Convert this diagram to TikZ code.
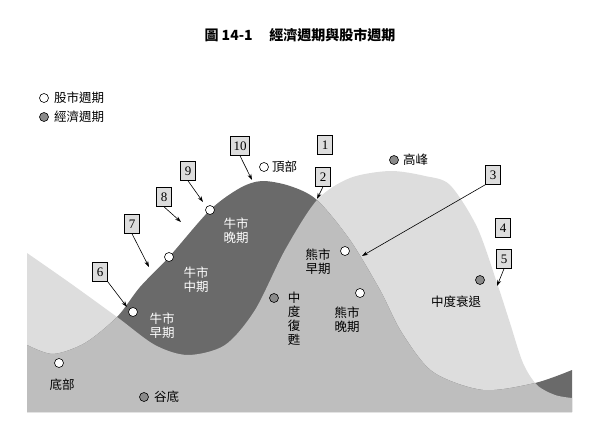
\documentclass[tikz,border=0pt]{standalone}
\usepackage{fontspec}
\setmainfont{Liberation Serif}
\newfontfamily\cjk{Noto Sans CJK TC}
\usetikzlibrary{arrows.meta}
\definecolor{darkg}{HTML}{6A6A6A}
\definecolor{lightg}{HTML}{DDDDDD}
\definecolor{medg}{HTML}{BEBEBE}
\definecolor{dotg}{HTML}{8A8A8A}
\tikzset{
 lbl/.style={font=\cjk\fontsize{12.5}{14}\selectfont, text=black, inner sep=0pt, align=center},
 lblw/.style={lbl, text=white},
 sdot/.style={circle, draw=black, fill=white, line width=0.6pt, minimum size=9pt, inner sep=0pt},
 edot/.style={circle, draw=black, fill=dotg, line width=0.6pt, minimum size=9pt, inner sep=0pt},
 numbox/.style={draw=black, fill=lightg, line width=0.6pt, minimum width=15pt, minimum height=19pt, inner sep=0pt, font=\fontsize{13}{14}\selectfont},
 arr/.style={-{Stealth[length=6pt,width=4pt]}, line width=0.6pt}
}
\begin{document}
\begin{tikzpicture}[x=1pt,y=-1pt]
\useasboundingbox (0,0) rectangle (600,428);
\def\Ecurve{(27,253)(70,283)(117,317)(155,345)(188,355)(225,345)(255,310)(285,250)(317,200)(350,178)(390,171)(425,176)(450,185)(477,227)(497,283)(510,323)(523,363)(537,385)(555,395)(572,398)}
\def\Scurve{(27,345)(53,354)(85,343)(117,317)(140,287)(169,257)(210,210)(240,188)(262,181)(290,186)(317,200)(350,240)(380,290)(402,333)(433,372)(483,390)(535,383)(572,370)}
\fill[lightg] (27,412) -- plot[smooth] coordinates {\Ecurve} -- (572,412) -- cycle;
\fill[darkg] (27,412) -- plot[smooth] coordinates {\Scurve} -- (572,412) -- cycle;
\begin{scope}
\clip (27,412) -- plot[smooth] coordinates {\Ecurve} -- (572,412) -- cycle;
\fill[medg] (27,412) -- plot[smooth] coordinates {\Scurve} -- (572,412) -- cycle;
\end{scope}
\node[font=\cjk\bfseries\fontsize{14}{16}\selectfont] (title) at (300,35) {圖 14-1\hspace{1.2em}經濟週期與股市週期};
\node[sdot] (lg1) at (44,98) {};
\node[lbl, anchor=west] (lg1t) at (54,98) {股市週期};
\node[edot] (lg2) at (44,117) {};
\node[lbl, anchor=west] (lg2t) at (54,117) {經濟週期};
% markers
\node[sdot] (d1) at (59,363) {};
\node[lbl] (d1t) at (62,385) {底部};
\node[edot] (d2) at (144,397) {};
\node[lbl, anchor=west] (d2t) at (154,397) {谷底};
\node[sdot] (d3) at (133,312) {};
\node[lblw] (d3t) at (162,326) {牛市\\早期};
\node[sdot] (d4) at (169,257) {};
\node[lblw] (d4t) at (196,280) {牛市\\中期};
\node[sdot] (d5) at (210,210) {};
\node[lblw] (d5t) at (236,231) {牛市\\晚期};
\node[sdot] (d6) at (264,167) {};
\node[lbl, anchor=west] (d6t) at (272,167) {頂部};
\node[edot] (d7) at (274,298) {};
\node[lbl, anchor=north] (d7t) at (294,292) {中\\度\\復\\甦};
\node[sdot] (d8) at (345,251) {};
\node[lbl] (d8t) at (318,262) {熊市\\早期};
\node[sdot] (d9) at (360,293) {};
\node[lbl] (d9t) at (347,320) {熊市\\晚期};
\node[edot] (d10) at (394,160) {};
\node[lbl, anchor=west] (d10t) at (403,160) {高峰};
\node[edot] (d11) at (480,280) {};
\node[lbl] (d11t) at (456,302) {中度衰退};
% number boxes
\node[numbox] (n1) at (325,145) {1};
\node[numbox] (n2) at (323,177) {2};
\node[numbox] (n3) at (493,175) {3};
\node[numbox] (n4) at (503,228) {4};
\node[numbox] (n5) at (504,259) {5};
\node[numbox] (n6) at (100,272) {6};
\node[numbox] (n7) at (132,224) {7};
\node[numbox] (n8) at (164,197) {8};
\node[numbox] (n9) at (188,171) {9};
\node[numbox, minimum width=19pt] (n10) at (240,146) {10};
\coordinate (t2) at (317,199);
\coordinate (t3) at (362,256);
\coordinate (t5) at (497,286);
\coordinate (t6) at (127,307);
\coordinate (t7) at (149,267);
\coordinate (t8) at (181,222);
\coordinate (t9) at (203,202);
\coordinate (t10) at (252,180);
\draw[arr] (n2.south) -- (t2);
\draw[arr] (n3.south west) -- (t3);
\draw[arr] (n5.south) -- (t5);
\draw[arr] (n6.south east) -- (t6);
\draw[arr] (n7.south) -- (t7);
\draw[arr] (n8.south) -- (t8);
\draw[arr] (n9.south) -- (t9);
\draw[arr] (n10.south) -- (t10);
\end{tikzpicture}
\end{document}
